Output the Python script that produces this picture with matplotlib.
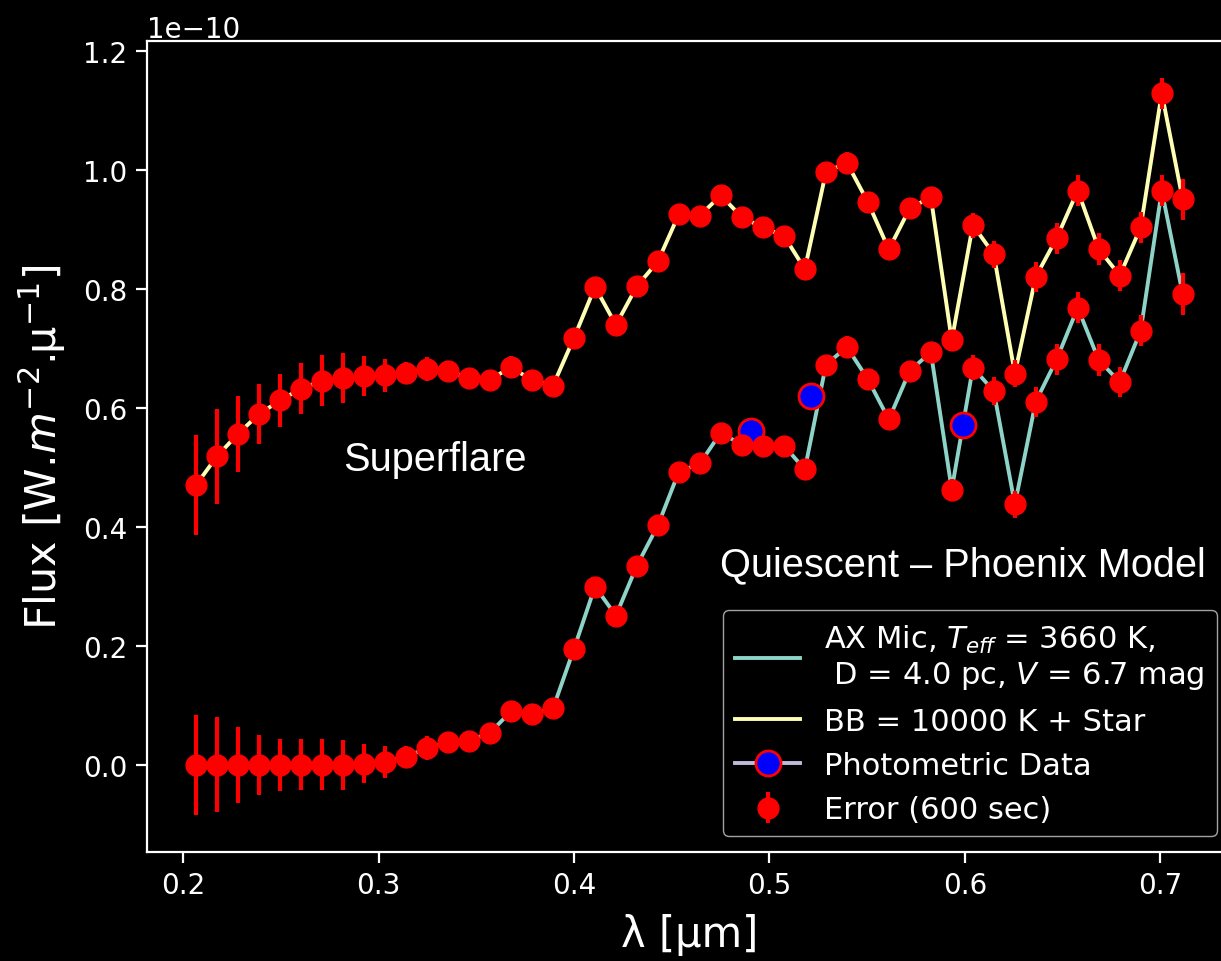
import matplotlib
matplotlib.use("Agg")
import matplotlib.pyplot as plt
import numpy as np

# wavelengths [um]
wave = [0.2065, 0.2172, 0.2280, 0.2387, 0.2495, 0.2602, 0.2710, 0.2817,
        0.2925, 0.3032, 0.3140, 0.3247, 0.3354, 0.3462, 0.3569, 0.3677,
        0.3784, 0.3892, 0.3999, 0.4107, 0.4214, 0.4321, 0.4429, 0.4536,
        0.4644, 0.4751, 0.4859, 0.4966, 0.5074, 0.5181, 0.5289, 0.5396,
        0.5503, 0.5611, 0.5718, 0.5826, 0.5933, 0.6041, 0.6148, 0.6256,
        0.6363, 0.6470, 0.6578, 0.6685, 0.6793, 0.6900, 0.7008, 0.7115]

# quiescent star (units of 1e-10)
star = [0.000, 0.000, 0.000, 0.000, 0.000, 0.000, 0.000, 0.000,
        0.002, 0.005, 0.014, 0.028, 0.038, 0.041, 0.054, 0.090,
        0.086, 0.095, 0.195, 0.300, 0.251, 0.335, 0.403, 0.493,
        0.507, 0.559, 0.538, 0.537, 0.537, 0.497, 0.673, 0.703,
        0.649, 0.581, 0.663, 0.694, 0.463, 0.668, 0.629, 0.438,
        0.611, 0.682, 0.769, 0.681, 0.644, 0.730, 0.966, 0.792]

# superflare: BB 10000 K + star (units of 1e-10)
flare = [0.471, 0.519, 0.557, 0.590, 0.613, 0.633, 0.646, 0.650,
         0.654, 0.655, 0.660, 0.666, 0.662, 0.651, 0.648, 0.669,
         0.647, 0.638, 0.718, 0.804, 0.740, 0.805, 0.847, 0.926,
         0.924, 0.958, 0.921, 0.904, 0.890, 0.834, 0.997, 1.013,
         0.947, 0.867, 0.936, 0.955, 0.714, 0.908, 0.859, 0.658,
         0.821, 0.886, 0.966, 0.868, 0.823, 0.904, 1.130, 0.951]

# 1-sigma errors for 600 s (units of 1e-10)
err = [0.084, 0.080, 0.064, 0.051, 0.044, 0.043, 0.043, 0.042,
       0.033, 0.027, 0.018, 0.020, 0.017, 0.015, 0.014, 0.018,
       0.016, 0.014, 0.014, 0.014, 0.013, 0.013, 0.012, 0.012,
       0.012, 0.012, 0.012, 0.012, 0.012, 0.018, 0.015, 0.018,
       0.015, 0.014, 0.014, 0.015, 0.018, 0.021, 0.023, 0.023,
       0.025, 0.026, 0.026, 0.027, 0.026, 0.026, 0.026, 0.035]

# photometric points
phot_wave = [0.4905, 0.5212, 0.5991]
phot_flux = [0.562, 0.620, 0.572]

scale = 1e-10

plt.style.use('dark_background')
plt.rcParams['axes.linewidth'] = 1.6

fig = plt.figure(figsize=(12.21, 9.62), dpi=100)
ax = fig.add_axes([0.1202, 0.1136, 0.8888, 0.843])

w = np.array(wave)
ax.plot(w, np.array(star) * scale, color='#8dd3c7', lw=2.8,
        label='AX Mic, $T_{eff}$ = 3660 K,\n D = 4.0 pc, $V$ = 6.7 mag')
ax.plot(w, np.array(flare) * scale, color='#feffb3', lw=2.8,
        label='BB = 10000 K + Star')

# photometric data, one point per filter
for k in range(len(phot_wave)):
    lab = 'Photometric Data' if k == 0 else None
    ax.plot([phot_wave[k]], [phot_flux[k] * scale], color='#bfbbd9', lw=2.8,
            marker='o', ms=18, mfc='blue', mec='red', mew=2, label=lab)

e = np.array(err) * scale
ax.errorbar(w, np.array(star) * scale, yerr=e, fmt='o', color='red',
            ms=15, elinewidth=3, label='Error (600 sec)')
ax.errorbar(w, np.array(flare) * scale, yerr=e, fmt='o', color='red',
            ms=15, elinewidth=3)

ax.text(0.3288, 0.515e-10, 'Superflare', fontsize=28.6, color='white',
        family='Liberation Sans', ha='center', va='center')
ax.text(0.599, 0.338e-10, 'Quiescent \u2013 Phoenix Model', fontsize=28.6,
        color='white', family='Liberation Sans', ha='center', va='center')

ax.set_xlabel('\u03bb [\u00b5m]', fontsize=30, labelpad=10)
ax.set_ylabel('Flux [W.$m^{-2}$.\u00b5$^{-1}$]', fontsize=31, labelpad=11)
ax.tick_params(labelsize=20, length=8, width=1.6, pad=6)
ax.yaxis.get_offset_text().set_fontsize(20)

leg = ax.legend(loc='lower right', fontsize=22, handlelength=2.1,
                framealpha=0.8, edgecolor='0.8')

fig.savefig('out.png', dpi=100)
